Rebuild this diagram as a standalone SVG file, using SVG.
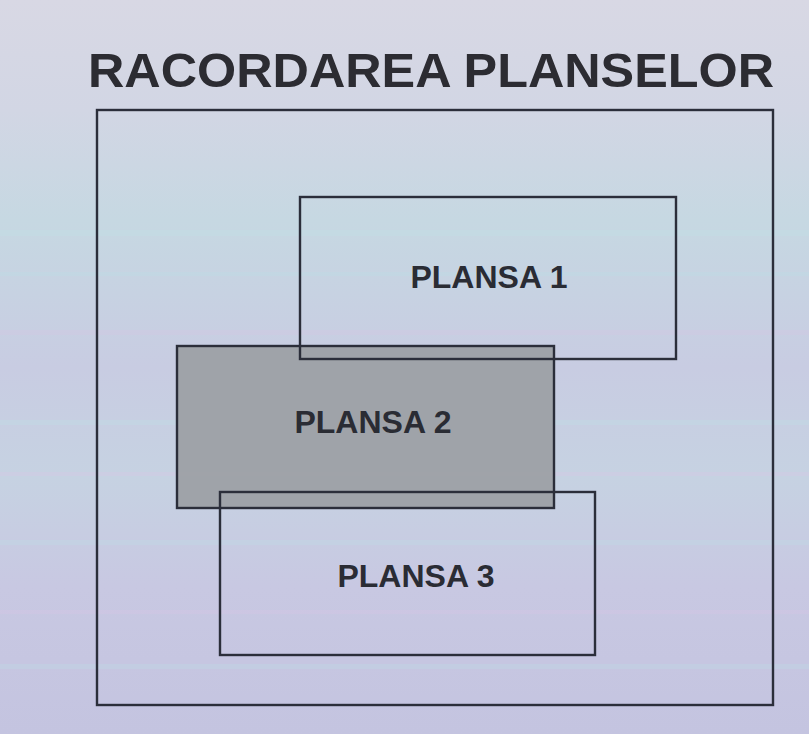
<svg xmlns="http://www.w3.org/2000/svg" width="809" height="734" viewBox="0 0 809 734">
<defs>
<linearGradient id="bg" x1="0" y1="0" x2="0" y2="1">
<stop offset="0" stop-color="#d8d8e4"/>
<stop offset="0.15" stop-color="#d2d6e4"/>
<stop offset="0.3" stop-color="#c6d8e2"/>
<stop offset="0.5" stop-color="#c8cce2"/>
<stop offset="0.65" stop-color="#c6d2e2"/>
<stop offset="0.8" stop-color="#c8c8e2"/>
<stop offset="1" stop-color="#c4c4e0"/>
</linearGradient>
<style>
.box{fill:none;stroke:#2b2e3a;stroke-width:2.4}
.lbl{font-family:"Liberation Sans",Arial,sans-serif;font-weight:bold;font-size:32px;fill:#2a2c34;text-anchor:middle}
.streak{opacity:0.35}
</style>
</defs>
<rect width="809" height="734" fill="url(#bg)"/>
<g class="streak">
<rect x="0" y="230" width="809" height="6" fill="#bfe0e6"/>
<rect x="0" y="272" width="809" height="4" fill="#bcdde6"/>
<rect x="0" y="330" width="809" height="5" fill="#d4c8e4"/>
<rect x="0" y="420" width="809" height="5" fill="#bfe0e6"/>
<rect x="0" y="472" width="809" height="4" fill="#d8c8e6"/>
<rect x="0" y="540" width="809" height="5" fill="#bfdde6"/>
<rect x="0" y="610" width="809" height="4" fill="#d8c6e6"/>
<rect x="0" y="664" width="809" height="5" fill="#bfdce6"/>
</g>
<text x="431" y="87" font-family="'Liberation Sans',Arial,sans-serif" font-weight="bold" font-size="49" fill="#2c2c32" text-anchor="middle" textLength="686" lengthAdjust="spacingAndGlyphs">RACORDAREA PLANSELOR</text>
<g id="frame"><rect class="box" x="97" y="110" width="676" height="595"/></g>
<g id="plansa2">
<rect x="177" y="346" width="377" height="162" fill="#9c9fa5" fill-opacity="0.93" stroke="#2b2e3a" stroke-width="2.4"/>
<text class="lbl" x="373" y="433">PLANSA 2</text>
</g>
<g id="plansa1">
<rect class="box" x="300" y="197" width="376" height="162"/>
<text class="lbl" x="489" y="288">PLANSA 1</text>
</g>
<g id="plansa3">
<rect class="box" x="220" y="492" width="375" height="163"/>
<text class="lbl" x="416" y="587">PLANSA 3</text>
</g>
</svg>
